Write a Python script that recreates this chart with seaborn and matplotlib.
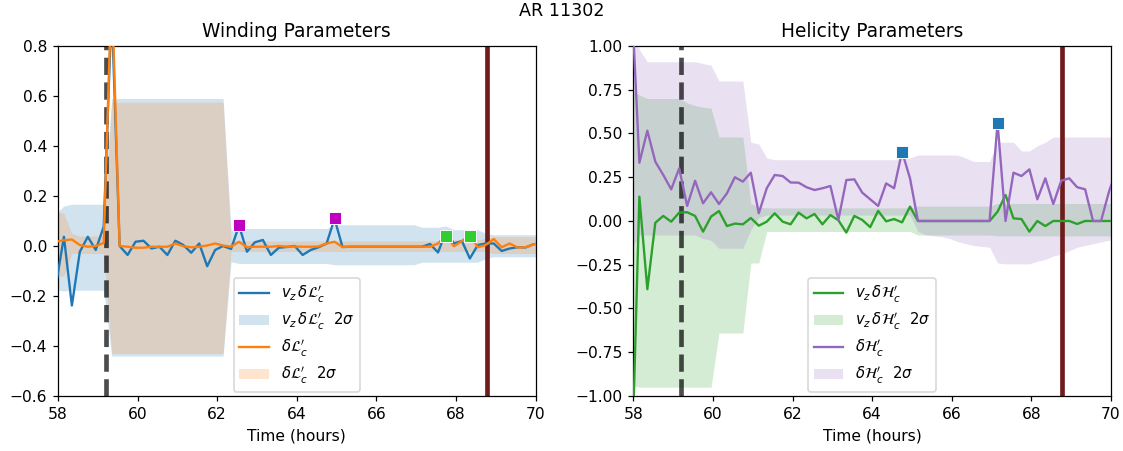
import numpy as np
import pandas as pd
import matplotlib
matplotlib.use("Agg")
import matplotlib.pyplot as plt
import seaborn as sns

# --- time grid (12 min cadence) ---
t = np.round(57.95 + 0.2 * np.arange(62), 2)

# --- winding parameters ---
vz_dL = [-0.157, 0.037, -0.238, -0.023, 0.037, -0.016, 0.078, 0.95, 0.0, -0.036,
         0.017, 0.021, -0.010, -0.003, -0.036, 0.021, 0.004, -0.027, 0.010, -0.081,
         -0.016, 0.000, -0.012, 0.082, -0.023, 0.015, 0.024, -0.036, -0.007, -0.004,
         0.000, -0.036, -0.016, -0.005, 0.010, 0.109, -0.004, -0.003, -0.003, -0.003,
         -0.003, -0.003, -0.003, -0.003, -0.003, -0.003, -0.003, 0.008, -0.026, 0.058,
         0.010, 0.020, -0.050, 0.004, 0.010, 0.010, -0.020, -0.010, -0.005, -0.006,
         0.007, 0.010]
vz_dL_hi = [0.13, 0.16, 0.167, 0.167, 0.167, 0.167, 0.167, 0.59, 0.59, 0.59,
            0.59, 0.59, 0.59, 0.59, 0.59, 0.59, 0.59, 0.59, 0.59, 0.59,
            0.59, 0.59, 0.065, 0.07, 0.07, 0.07, 0.07, 0.07, 0.07, 0.07,
            0.07, 0.07, 0.07, 0.07, 0.07, 0.085, 0.085, 0.085, 0.085, 0.085,
            0.085, 0.085, 0.085, 0.085, 0.085, 0.085, 0.075, 0.075, 0.075, 0.08,
            0.065, 0.065, 0.065, 0.065, 0.05, 0.045, 0.045, 0.045, 0.045, 0.045,
            0.045, 0.045]
vz_dL_lo = [-0.175, -0.18, -0.177, -0.177, -0.177, -0.177, -0.177, -0.44, -0.44, -0.44,
            -0.44, -0.44, -0.44, -0.44, -0.44, -0.44, -0.44, -0.44, -0.44, -0.44,
            -0.44, -0.44, -0.063, -0.07, -0.07, -0.07, -0.07, -0.07, -0.07, -0.07,
            -0.07, -0.07, -0.07, -0.07, -0.07, -0.075, -0.075, -0.075, -0.075, -0.075,
            -0.075, -0.075, -0.075, -0.075, -0.075, -0.075, -0.065, -0.065, -0.065, -0.065,
            -0.065, -0.065, -0.065, -0.065, -0.05, -0.043, -0.043, -0.043, -0.043, -0.043,
            -0.043, -0.043]

dL = [0.017, 0.023, 0.026, 0.004, -0.003, 0.000, 0.012, 1.05, 0.000, -0.003,
      -0.007, -0.007, -0.003, -0.003, -0.003, 0.010, -0.001, -0.005, -0.003, 0.002,
      0.010, 0.002, -0.003, 0.017, -0.005, -0.003, -0.003, -0.003, 0.000, -0.003,
      -0.002, -0.003, -0.003, -0.002, 0.010, 0.017, -0.004, -0.003, -0.003, -0.003,
      -0.003, -0.003, -0.003, -0.003, -0.003, -0.003, -0.003, -0.003, 0.010, 0.044,
      -0.001, 0.020, 0.044, -0.005, 0.004, 0.028, -0.005, 0.010, -0.006, -0.005,
      0.007, 0.010]
dL_hi = [0.14, 0.13, 0.05, 0.04, 0.04, 0.04, 0.04, 0.575, 0.575, 0.575,
         0.575, 0.575, 0.575, 0.575, 0.575, 0.575, 0.575, 0.575, 0.575, 0.575,
         0.575, 0.575, 0.02, 0.02, 0.02, 0.02, 0.02, 0.02, 0.02, 0.02,
         0.02, 0.02, 0.02, 0.02, 0.02, 0.02, 0.02, 0.02, 0.02, 0.02,
         0.02, 0.02, 0.02, 0.02, 0.02, 0.02, 0.02, 0.02, 0.02, 0.03,
         0.025, 0.025, 0.03, 0.025, 0.03, 0.037, 0.037, 0.037, 0.037, 0.037,
         0.037, 0.037]
dL_lo = [-0.12, -0.12, -0.03, -0.03, -0.03, -0.03, -0.03, -0.43, -0.43, -0.43,
         -0.43, -0.43, -0.43, -0.43, -0.43, -0.43, -0.43, -0.43, -0.43, -0.43,
         -0.43, -0.43, -0.022, -0.022, -0.022, -0.022, -0.022, -0.022, -0.022, -0.022,
         -0.022, -0.022, -0.022, -0.022, -0.022, -0.022, -0.022, -0.022, -0.022, -0.022,
         -0.022, -0.022, -0.022, -0.022, -0.022, -0.022, -0.022, -0.022, -0.022, -0.022,
         -0.022, -0.022, -0.022, -0.022, -0.022, -0.03, -0.03, -0.03, -0.03, -0.03,
         -0.03, -0.03]

# flare markers (winding)
mag_t = [62.55, 64.95]
mag_y = [0.085, 0.112]
lime_t = [67.75, 68.35]
lime_y = [0.038, 0.038]

# --- helicity parameters ---
vz_dH = [-1.5, 0.139, -0.390, -0.010, 0.029, -0.004, 0.048, 0.050, 0.029, -0.061,
         0.025, 0.057, -0.029, -0.015, -0.019, 0.017, -0.027, -0.004, 0.044, -0.004,
         -0.019, 0.048, 0.015, 0.040, -0.019, 0.034, 0.004, -0.066, 0.029, 0.006,
         -0.035, 0.058, -0.002, 0.011, -0.008, 0.082, 0.0, 0.0, 0.0, 0.0,
         0.0, 0.0, 0.0, 0.0, 0.0, 0.0, 0.053, 0.149, 0.015, 0.011,
         -0.061, 0.0, -0.029, 0.0, 0.0, 0.0, -0.017, 0.0, 0.0, 0.0,
         0.0, 0.0]
vz_dH_hi = [0.75, 0.72, 0.70, 0.70, 0.70, 0.70, 0.70, 0.675, 0.66, 0.65,
            0.645, 0.48, 0.48, 0.48, 0.48, 0.10, 0.08, 0.075, 0.075, 0.075,
            0.075, 0.075, 0.075, 0.075, 0.075, 0.075, 0.075, 0.075, 0.075, 0.075,
            0.075, 0.075, 0.075, 0.075, 0.075, 0.075, 0.085, 0.085, 0.085, 0.085,
            0.085, 0.085, 0.085, 0.085, 0.085, 0.085, 0.10, 0.10, 0.10, 0.10,
            0.10, 0.10, 0.10, 0.10, 0.10, 0.10, 0.10, 0.10, 0.10, 0.10,
            0.10, 0.10]
vz_dH_lo = [-0.94, -0.95, -0.95, -0.95, -0.95, -0.95, -0.95, -0.95, -0.95, -0.95,
            -0.95, -0.64, -0.64, -0.64, -0.64, -0.24, -0.24, -0.06, -0.06, -0.06,
            -0.06, -0.06, -0.06, -0.06, -0.06, -0.06, -0.06, -0.06, -0.06, -0.06,
            -0.06, -0.06, -0.06, -0.06, -0.06, -0.06, -0.08, -0.08, -0.08, -0.08,
            -0.08, -0.08, -0.08, -0.08, -0.08, -0.08, -0.085, -0.085, -0.085, -0.085,
            -0.085, -0.085, -0.085, -0.085, -0.085, -0.085, -0.085, -0.085, -0.085, -0.085,
            -0.085, -0.085]

dH = [1.3, 0.333, 0.516, 0.339, 0.263, 0.181, 0.301, 0.086, 0.230, 0.101,
      0.164, 0.097, 0.158, 0.250, 0.225, 0.276, 0.044, 0.187, 0.263, 0.257,
      0.220, 0.219, 0.193, 0.177, 0.187, 0.200, 0.006, 0.234, 0.238, 0.162,
      0.124, 0.086, 0.215, 0.187, 0.396, 0.244, 0.0, 0.0, 0.0, 0.0,
      0.0, 0.0, 0.0, 0.0, 0.0, 0.0, 0.562, 0.0, 0.276, 0.257,
      0.295, 0.124, 0.244, 0.097, 0.230, 0.244, 0.193, 0.181, 0.0, 0.0,
      0.168, 0.30]
dH_hi = [1.1, 0.98, 0.91, 0.91, 0.91, 0.91, 0.91, 0.91, 0.91, 0.90,
         0.89, 0.80, 0.80, 0.80, 0.80, 0.45, 0.44, 0.36, 0.35, 0.35,
         0.35, 0.35, 0.35, 0.35, 0.35, 0.35, 0.35, 0.35, 0.35, 0.35,
         0.35, 0.35, 0.35, 0.35, 0.36, 0.36, 0.377, 0.377, 0.377, 0.377,
         0.377, 0.377, 0.36, 0.34, 0.34, 0.34, 0.45, 0.45, 0.45, 0.40,
         0.40, 0.43, 0.45, 0.48, 0.48, 0.48, 0.48, 0.48, 0.48, 0.48,
         0.48, 0.48]
dH_lo = [-0.16, -0.08, -0.08, -0.08, -0.08, -0.08, -0.08, -0.08, -0.08, -0.10,
         -0.11, -0.156, -0.156, -0.156, -0.156, -0.05, 0.02, 0.034, 0.034, 0.034,
         0.034, 0.034, 0.034, 0.034, 0.034, 0.034, 0.034, 0.034, 0.034, 0.034,
         0.034, 0.034, 0.034, 0.034, 0.034, 0.034, -0.06, -0.08, -0.085, -0.09,
         -0.10, -0.118, -0.13, -0.14, -0.145, -0.15, -0.24, -0.245, -0.245, -0.245,
         -0.245, -0.23, -0.22, -0.20, -0.19, -0.17, -0.15, -0.14, -0.13, -0.12,
         -0.11, -0.11]

# flare markers (helicity)
blue_t = [64.75, 67.15]
blue_y = [0.396, 0.562]

# event times
t_onset = 59.2
t_flare = 68.77

df = pd.DataFrame({'t': t, 'vz_dL': vz_dL, 'dL': dL, 'vz_dH': vz_dH, 'dH': dH})

fig, axes = plt.subplots(1, 2, figsize=(1123 / 112, 451 / 112), dpi=112)
fig.subplots_adjust(left=0.0516, right=0.9893, bottom=0.122, top=0.898, wspace=0.205)


def panel(ax, c1, c2, y1, y1lo, y1hi, y2, y2lo, y2hi, labels):
    l1 = sns.lineplot(data=df, x='t', y=y1, ax=ax, color=c1, lw=1.5, zorder=3).lines[-1]
    f1 = ax.fill_between(t, y1lo, y1hi, color=c1, alpha=0.2, lw=0)
    l2 = sns.lineplot(data=df, x='t', y=y2, ax=ax, color=c2, lw=1.5, zorder=3).lines[-1]
    f2 = ax.fill_between(t, y2lo, y2hi, color=c2, alpha=0.2, lw=0)
    ax.axvline(t_onset, color='k', alpha=0.7, ls='--', lw=3, zorder=2)
    ax.axvline(t_flare, color='#6e1c1c', lw=3, zorder=2)
    ax.legend([l1, f1, l2, f2], labels, loc='lower center', fontsize=9.5,
              labelspacing=0.4, borderaxespad=0.3)
    ax.set_xlim(58, 70)
    ax.set_xlabel("Time (hours)")
    ax.set_ylabel("")


ax = axes[0]
panel(ax, 'C0', 'C1', 'vz_dL', vz_dL_lo, vz_dL_hi, 'dL', dL_lo, dL_hi,
      [r"$v_z\,\delta\mathcal{L}_c'$", r"$v_z\,\delta\mathcal{L}_c'\ \ 2\sigma$",
       r"$\delta\mathcal{L}_c'$", r"$\delta\mathcal{L}_c'\ \ 2\sigma$"])
sns.scatterplot(x=mag_t, y=mag_y, ax=ax, marker='s', color='m', s=55, zorder=4, legend=False)
sns.scatterplot(x=lime_t, y=lime_y, ax=ax, marker='s', color='limegreen', s=55, zorder=4, legend=False)
ax.set_ylim(-0.6, 0.8)
ax.set_title("Winding Parameters")

ax = axes[1]
panel(ax, 'C2', 'C4', 'vz_dH', vz_dH_lo, vz_dH_hi, 'dH', dH_lo, dH_hi,
      [r"$v_z\,\delta\mathcal{H}_c'$", r"$v_z\,\delta\mathcal{H}_c'\ \ 2\sigma$",
       r"$\delta\mathcal{H}_c'$", r"$\delta\mathcal{H}_c'\ \ 2\sigma$"])
sns.scatterplot(x=blue_t, y=blue_y, ax=ax, marker='s', color='C0', s=55, zorder=4, legend=False)
ax.set_ylim(-1.0, 1.0)
ax.set_title("Helicity Parameters")

fig.suptitle("AR 11302", fontsize=11.25, y=0.995)

fig.savefig("out.png", dpi=112)
